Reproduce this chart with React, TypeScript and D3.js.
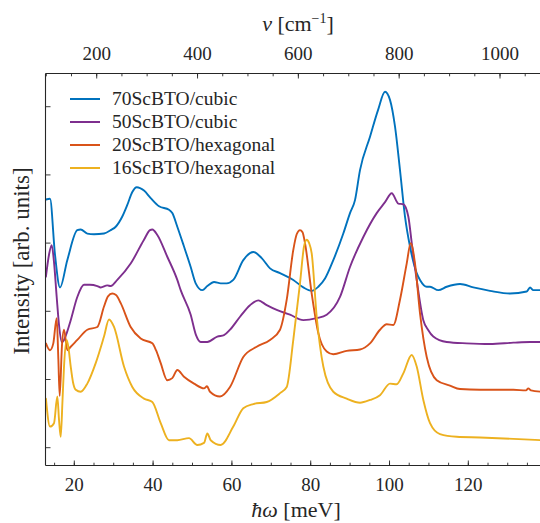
import React from 'react';
import * as d3 from 'd3';

// ---------- data (ħω in meV, intensity in arb. units, offset curves) ----------
const seriesNames = ['70ScBTO/cubic', '50ScBTO/cubic', '20ScBTO/hexagonal', '16ScBTO/hexagonal'];
const seriesColors = ['#0072BD', '#7E2F8E', '#D95319', '#EDB120'];

const sc70: [number, number][] = [
  [12.8, 3.64], [13.83, 3.65], [15.10, 2.83], [16.37, 2.35], [18.22, 2.75], [20.76, 3.19], [21.62, 3.20],
  [23.30, 3.14], [25.00, 3.13], [27.54, 3.14], [29.24, 3.19], [30.51, 3.24], [32.18, 3.39], [33.45, 3.56],
  [34.72, 3.75], [35.84, 3.82], [37.69, 3.77], [39.39, 3.66], [41.50, 3.54], [44.03, 3.49], [44.87, 3.44],
  [46.14, 3.24], [47.84, 2.95], [49.54, 2.65], [50.81, 2.41], [52.49, 2.31], [53.76, 2.37], [55.46, 2.43],
  [57.16, 2.41], [58.68, 2.41], [60.35, 2.46], [62.89, 2.75], [65.43, 2.87], [67.56, 2.78], [69.67, 2.63],
  [72.21, 2.56], [75.58, 2.46], [78.12, 2.35], [80.25, 2.30], [81.93, 2.36], [83.63, 2.48], [85.73, 2.75],
  [88.27, 3.14], [89.97, 3.44], [91.24, 3.63], [92.51, 4.07], [95.05, 4.56], [97.08, 4.95], [98.86, 5.22],
  [100.12, 5.10], [101.39, 4.71], [102.66, 4.07], [103.93, 3.39], [105.20, 2.95], [106.90, 2.56],
  [107.74, 2.46], [109.44, 2.36], [110.28, 2.36], [112.38, 2.31], [114.52, 2.36], [117.89, 2.40],
  [121.27, 2.35], [125.50, 2.30], [130.58, 2.26], [134.82, 2.29], [135.66, 2.35], [136.49, 2.31], [138.7, 2.31],
];

const sc50: [number, number][] = [
  [12.8, 2.51], [13.58, 2.83], [14.26, 2.97], [14.85, 2.72], [15.53, 2.21], [16.12, 1.80], [16.80, 1.55],
  [17.39, 1.58], [18.07, 1.68], [19.09, 1.87], [20.76, 2.21], [22.46, 2.39], [23.98, 2.39], [25.84, 2.37],
  [26.70, 2.35], [28.38, 2.38], [29.24, 2.37], [30.91, 2.46], [34.31, 2.70], [37.69, 3.05], [39.21, 3.19],
  [39.80, 3.20], [41.07, 3.12], [43.60, 2.80], [46.14, 2.46], [47.00, 2.31], [49.54, 1.95], [50.89, 1.65],
  [52.08, 1.55], [53.76, 1.55], [56.29, 1.63], [57.99, 1.65], [59.52, 1.73], [62.06, 1.92], [64.59, 2.09],
  [66.70, 2.16], [68.83, 2.09], [71.37, 2.02], [74.74, 1.95], [78.12, 1.87], [81.52, 1.90], [84.06, 1.95],
  [87.43, 2.21], [89.97, 2.65], [93.35, 3.09], [96.75, 3.44], [98.86, 3.60], [100.56, 3.73], [102.23, 3.58],
  [103.50, 3.57], [104.77, 3.39], [105.71, 2.97], [106.90, 2.46], [108.58, 1.87], [109.77, 1.73],
  [111.11, 1.63], [114.51, 1.55], [119.59, 1.53], [125.50, 1.52], [131.42, 1.54], [135.66, 1.55], [138.7, 1.55],
];

const sc20: [number, number][] = [
  [12.8, 1.53], [13.83, 1.43], [14.67, 1.53], [15.53, 1.90], [15.95, 1.30], [16.29, 0.76], [16.88, 1.51],
  [17.39, 1.73], [18.22, 1.43], [19.09, 1.48], [20.76, 1.58], [23.30, 1.73], [25.84, 1.77], [27.54, 2.07],
  [28.55, 2.22], [29.64, 2.26], [30.58, 2.24], [31.78, 2.12], [34.31, 1.77], [36.85, 1.60], [39.80, 1.53],
  [40.73, 1.43], [41.93, 1.24], [43.60, 0.99], [44.87, 1.02], [46.14, 1.14], [47.84, 1.04], [50.38, 0.94],
  [52.92, 0.87], [53.68, 0.90], [54.44, 0.82], [56.98, 0.75], [59.52, 0.89], [62.89, 1.33], [66.29, 1.48],
  [69.67, 1.58], [72.21, 1.73], [73.91, 2.17], [75.58, 2.90], [76.44, 3.13], [77.28, 3.19], [77.92, 3.16],
  [78.55, 3.00], [80.25, 2.26], [81.93, 1.68], [84.06, 1.41], [85.73, 1.37], [89.13, 1.42], [92.51, 1.44],
  [95.05, 1.53], [97.59, 1.73], [99.29, 1.81], [100.96, 1.80], [102.66, 2.17], [104.36, 2.70], [105.38, 3.00],
  [106.47, 2.70], [107.74, 1.97], [109.44, 1.33], [111.98, 0.99], [115.35, 0.91], [117.89, 0.86],
  [122.97, 0.85], [131.42, 0.85], [134.64, 0.84], [135.22, 0.87], [135.91, 0.84], [138.7, 0.82],
];

const sc16: [number, number][] = [
  [12.8, 0.72], [13.83, 0.31], [14.85, 0.36], [15.69, 0.75], [16.12, 0.41], [16.55, 0.16], [17.01, 0.70],
  [17.39, 1.19], [18.07, 1.58], [18.53, 1.46], [19.09, 1.19], [19.67, 0.96], [20.36, 0.85], [21.62, 0.82],
  [23.30, 0.94], [25.43, 1.24], [27.54, 1.63], [28.81, 1.88], [30.08, 1.77], [32.61, 1.19], [34.72, 0.89],
  [37.69, 0.72], [39.80, 0.67], [41.93, 0.36], [44.03, 0.11], [46.14, 0.11], [49.11, 0.14], [51.22, 0.04],
  [52.92, 0.07], [53.76, 0.21], [54.62, 0.11], [57.16, 0.04], [60.35, 0.31], [62.89, 0.58], [65.43, 0.64],
  [68.83, 0.67], [72.21, 0.80], [73.91, 0.89], [75.58, 1.58], [77.28, 2.41], [78.30, 2.95], [78.98, 3.05],
  [79.60, 3.00], [80.25, 2.85], [81.52, 1.92], [83.20, 1.19], [85.73, 0.82], [89.13, 0.72], [92.51, 0.66],
  [95.05, 0.70], [97.59, 0.77], [100.12, 0.94], [101.82, 0.93], [103.50, 1.09], [105.63, 1.36],
  [106.90, 1.19], [108.58, 0.70], [110.28, 0.36], [112.81, 0.20], [117.05, 0.16], [122.97, 0.15],
  [131.42, 0.13], [138.7, 0.11],
];

const allSeries = [sc70, sc50, sc20, sc16];

// axis tick values
const xMajorTicks = [20, 40, 60, 80, 100, 120];
const xMinorTicks = d3.range(15, 140, 5);
const nuMajorTicks = [200, 400, 600, 800, 1000];
const nuMinorTicks = d3.range(100, 1100, 50);
const yMajorTicks = [0, 1, 2, 3, 4, 5];

// axis limits
const xDomain = [12.69, 138.7];
const nuDomain = [98.4, 1083.3];
const yDomain = [-0.261, 5.487];

const FONT = '"Liberation Serif", "Times New Roman", serif';
const INK = '#262626';

export default function App() {
  const L = 45.5, R = 542, T = 73.5, B = 465.5;
  const x = d3.scaleLinear().domain(xDomain).range([L, R]);
  const xTop = d3.scaleLinear().domain(nuDomain).range([L, R]);
  const y = d3.scaleLinear().domain(yDomain).range([B, T]);

  const line = d3
    .line<[number, number]>()
    .x((d) => x(d[0]))
    .y((d) => y(d[1]))
    .curve(d3.curveMonotoneX);

  const legendY = [99, 122, 145, 168];

  return (
    <svg
      width={540}
      height={523}
      style={{ position: 'absolute', left: 0, top: 0, display: 'block', background: '#fff' }}
      fontFamily={FONT}
    >
      <defs>
        <clipPath id="plotclip">
          <rect x={L} y={T} width={R - L} height={B - T} />
        </clipPath>
      </defs>

      {/* curves */}
      <g clipPath="url(#plotclip)">
        {allSeries.map((s, i) => (
          <path
            key={i}
            d={line(s) || ''}
            fill="none"
            stroke={seriesColors[i]}
            strokeWidth={1.9}
            strokeLinejoin="round"
            strokeLinecap="round"
          />
        ))}
      </g>

      {/* spines */}
      <line x1={L} x2={L} y1={T} y2={B} stroke={INK} strokeWidth={1.1} />
      <line x1={L} x2={R} y1={B} y2={B} stroke={INK} strokeWidth={1.1} />
      <line x1={L} x2={R} y1={T} y2={T} stroke={INK} strokeWidth={1.1} />

      {/* bottom ticks */}
      {xMinorTicks.map((t) => (
        <line key={'xm' + t} x1={x(t)} x2={x(t)} y1={B} y2={B - 2.8} stroke={INK} strokeWidth={0.9} />
      ))}
      {xMajorTicks.map((t) => (
        <g key={'xM' + t}>
          <line x1={x(t)} x2={x(t)} y1={B} y2={B - 5} stroke={INK} strokeWidth={0.9} />
          <text x={x(t)} y={491} textAnchor="middle" fontSize={19} fill={INK}>
            {t}
          </text>
        </g>
      ))}

      {/* top ticks */}
      {nuMinorTicks.map((t) => (
        <line key={'nm' + t} x1={xTop(t)} x2={xTop(t)} y1={T} y2={T + 2.8} stroke={INK} strokeWidth={0.9} />
      ))}
      {nuMajorTicks.map((t) => (
        <g key={'nM' + t}>
          <line x1={xTop(t)} x2={xTop(t)} y1={T} y2={T + 5} stroke={INK} strokeWidth={0.9} />
          <text x={xTop(t)} y={60} textAnchor="middle" fontSize={19} fill={INK}>
            {t}
          </text>
        </g>
      ))}

      {/* left ticks */}
      {yMajorTicks.map((t) => (
        <line key={'y' + t} x1={L} x2={L + 5} y1={y(t)} y2={y(t)} stroke={INK} strokeWidth={0.9} />
      ))}

      {/* axis titles */}
      <text x={296} y={517} textAnchor="middle" fontSize={22} fill={INK}>
        <tspan fontStyle="italic">ħω</tspan>
        <tspan> [meV]</tspan>
      </text>
      <text x={298} y={31} textAnchor="middle" fontSize={22} fill={INK}>
        <tspan fontStyle="italic">ν</tspan>
        <tspan> [cm</tspan>
        <tspan fontSize={14} dy={-8}>−1</tspan>
        <tspan dy={8}>]</tspan>
      </text>
      <text
        transform={`translate(29, 261) rotate(-90)`}
        textAnchor="middle"
        fontSize={23}
        fill={INK}
      >
        Intensity [arb. units]
      </text>

      {/* legend */}
      {seriesNames.map((n, i) => (
        <g key={n}>
          <line x1={70} x2={100} y1={legendY[i]} y2={legendY[i]} stroke={seriesColors[i]} strokeWidth={2} />
          <text x={112} y={legendY[i] + 6} fontSize={19.5} fill={INK}>
            {n}
          </text>
        </g>
      ))}
    </svg>
  );
}
